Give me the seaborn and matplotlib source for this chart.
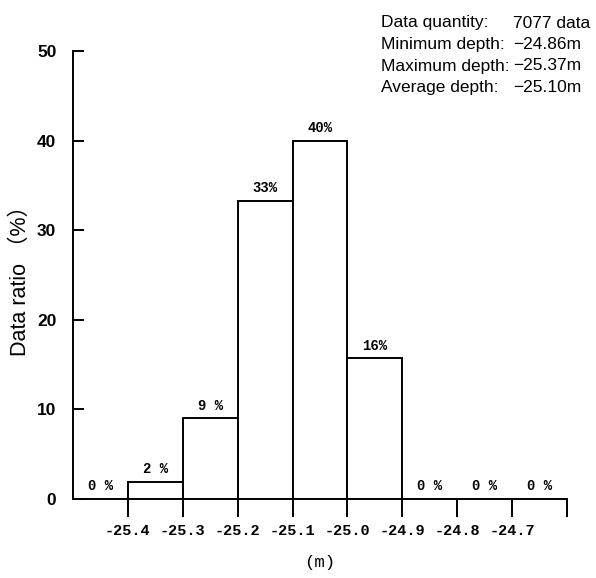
import numpy as np
import pandas as pd
import matplotlib
matplotlib.use("Agg")
import matplotlib.pyplot as plt
import seaborn as sns

# depth bins (lower edge, m) and share of data in each bin (%)
bin_left = [-25.5, -25.4, -25.3, -25.2, -25.1, -25.0, -24.9, -24.8, -24.7]
ratio = [0, 1.9, 9.0, 33.3, 40.0, 15.7, 0, 0, 0]
ratio_labels = ["0 %", "2 %", "9 %", "33%", "40%", "16%", "0 %", "0 %", "0 %"]
x_ticks = [-25.4, -25.3, -25.2, -25.1, -25.0, -24.9, -24.8, -24.7, -24.6]
x_tick_labels = ["-25.4", "-25.3", "-25.2", "-25.1", "-25.0", "-24.9", "-24.8", "-24.7", ""]
y_ticks = [0, 10, 20, 30, 40, 50]

info_keys = ["Data quantity:", "Minimum depth:", "Maximum depth:", "Average depth:"]
info_vals = ["7077 data", "\u221224.86m", "\u221225.37m", "\u221225.10m"]

sns.set_style("ticks", {"axes.edgecolor": "black", "text.color": "black",
                        "axes.labelcolor": "black", "xtick.color": "black",
                        "ytick.color": "black"})
plt.rcParams["font.family"] = ["Liberation Sans", "Noto Sans CJK JP", "DejaVu Sans"]

df = pd.DataFrame({"depth": np.array(bin_left) + 0.05, "ratio": ratio})
edges = bin_left + [bin_left[-1] + 0.1]

fig = plt.figure(figsize=(5.96, 5.78), dpi=100)
ax = fig.add_axes([73 / 596, 1 - 499 / 578, 494 / 596, 448 / 578])

sns.histplot(df, x="depth", weights="ratio", bins=edges, ax=ax,
             color="white", edgecolor="black", linewidth=1.4, alpha=1)

for x, h, lab in zip(df["depth"], ratio, ratio_labels):
    ax.annotate(lab, (x, h), xytext=(0, 4), textcoords="offset points",
                ha="center", va="bottom", fontsize=10, fontweight="bold",
                family="Liberation Mono")

ax.set_xlim(-25.5, -24.6)
ax.set_ylim(0, 50)
ax.set_xticks(x_ticks)
ax.set_xticklabels(x_tick_labels, family="Liberation Mono", fontweight="bold", fontsize=11)
ax.set_yticks(y_ticks)
ax.set_yticklabels([str(v) for v in y_ticks], fontsize=12.5, fontweight="bold")
ax.tick_params(axis="x", direction="out", length=13, width=1.4, pad=5)
ax.tick_params(axis="y", direction="in", length=8, width=1.4, pad=12)
sns.despine(ax=ax)
for s in ["left", "bottom"]:
    ax.spines[s].set_linewidth(1.4)
ax.grid(False)

ax.set_ylabel("Data ratio （%）", fontsize=15.5, labelpad=4)
ax.set_xlabel("(m)", fontsize=12.5, family="Liberation Mono", labelpad=12)

for i, (k, v) in enumerate(zip(info_keys, info_vals)):
    y = 1 - (23 + i * 21.5) / 578
    fig.text(381 / 596, y, k, fontsize=12.5, va="center", ha="left")
    fig.text(513 / 596, y, v, fontsize=12.5, va="center", ha="left")

fig.savefig("out.png", dpi=100)
